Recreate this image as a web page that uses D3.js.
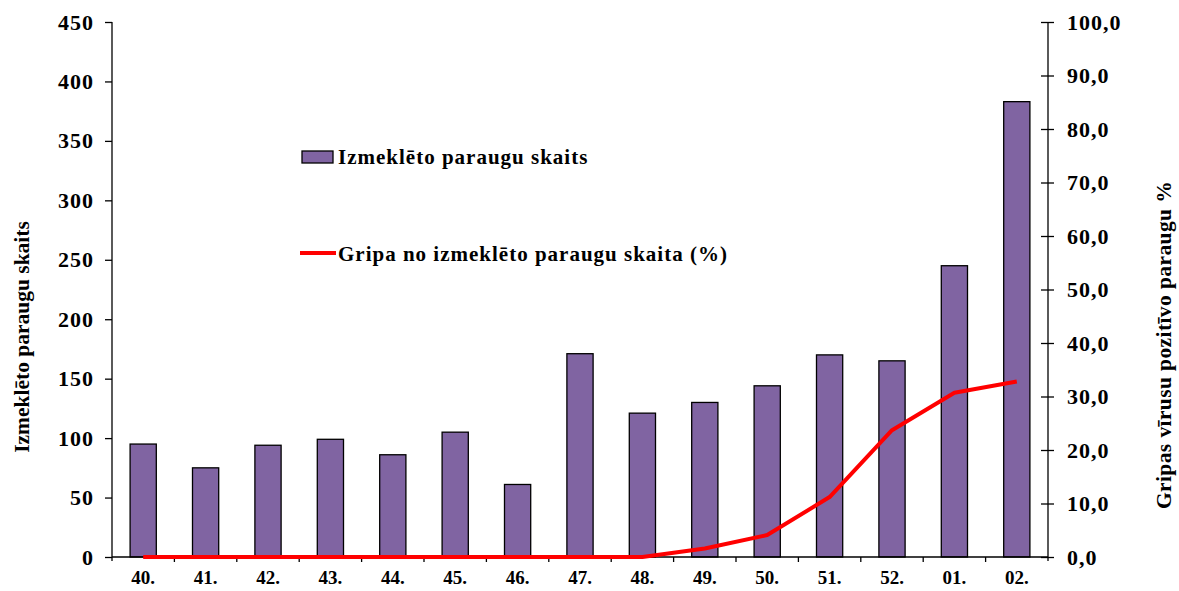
<!DOCTYPE html>
<html><head><meta charset="utf-8">
<script src="https://cdn.jsdelivr.net/npm/d3@7"></script>
<style>body{margin:0;background:#fff}svg{display:block}text{font-family:"Liberation Serif","Times New Roman",serif;font-weight:bold;fill:#000}</style>
</head><body><svg id="c" width="1179" height="591"></svg>
<script>
const weeks = ["40.","41.","42.","43.","44.","45.","46.","47.","48.","49.","50.","51.","52.","01.","02."];
const samples = [95,75,94,99,86,105,61,171,121,130,144,170,165,245,383];
const fluPct = [0,0,0,0,0,0,0,0,0,1.6,4.1,11.2,23.7,30.7,32.8];
const leftTicks = [0,50,100,150,200,250,300,350,400,450];
const rightTicks = [0,10,20,30,40,50,60,70,80,90,100];
const barLabel = "Izmeklēto paraugu skaits";
const lineLabel = "Gripa no izmeklēto paraugu skaita (%)";
const leftTitle = "Izmeklēto paraugu skaits";
const rightTitle = "Gripas vīrusu pozitīvo  paraugu %";

const svg = d3.select("#c");
const L = 112, R = 1048, T = 22, B = 557;
const x = d3.scaleBand().domain(weeks).range([L, R]).paddingInner(0.58).paddingOuter(0.29);
const yL = d3.scaleLinear().domain([0,450]).range([B,T]);
const yR = d3.scaleLinear().domain([0,100]).range([B,T]);

// bars
svg.append("g").selectAll("rect").data(weeks).join("rect")
  .attr("x", d => x(d)).attr("width", x.bandwidth())
  .attr("y", (d,i) => yL(samples[i])).attr("height", (d,i) => B - yL(samples[i]))
  .attr("fill", "#8064A2").attr("stroke", "#000").attr("stroke-width", 1.3);

// left axis
const ax = svg.append("g").attr("transform", `translate(${L},0)`)
  .call(d3.axisLeft(yL).tickValues(leftTicks).tickSize(7).tickPadding(11).tickFormat(d3.format("d")));
ax.selectAll("text").style("font-size","22px").style("letter-spacing","1px");
ax.select(".domain").attr("d", `M0,${T}V${B+4}`).attr("stroke","#000").attr("stroke-width",1.3);
ax.selectAll(".tick line").attr("stroke-width",1.3);

// right axis
const fmt = d => d3.format(".1f")(d).replace(".", ",");
const ar = svg.append("g").attr("transform", `translate(${R},0)`)
  .call(d3.axisRight(yR).tickValues(rightTicks).tickSize(6).tickPadding(13).tickFormat(fmt));
ar.selectAll("text").style("font-size","22px").style("letter-spacing","1px");
ar.select(".domain").attr("d", `M0,${T}V${B+4}`).attr("stroke","#000").attr("stroke-width",1.3);
ar.selectAll(".tick line").attr("x1",-7).attr("stroke-width",1.3);

// bottom axis
const ab = svg.append("g").attr("transform", `translate(0,${B})`)
  .call(d3.axisBottom(x).tickSize(0).tickPadding(14));
ab.selectAll("text").style("font-size","19px");
ab.select(".domain").attr("d", `M${L},0H${R}`).attr("stroke","#000").attr("stroke-width",1.3);
ab.selectAll(".tickb").data(d3.range(1, weeks.length)).join("line")
  .attr("x1", i => L + i * x.step()).attr("x2", i => L + i * x.step())
  .attr("y1", 0).attr("y2", 5).attr("stroke","#000").attr("stroke-width",1.3);

// line
const line = d3.line().x((d,i) => x(weeks[i]) + x.bandwidth()/2).y(d => yR(d));
svg.append("path").datum(fluPct).attr("d", line)
  .attr("fill","none").attr("stroke","#FF0000").attr("stroke-width",4).attr("stroke-linejoin","round");

// legend
svg.append("rect").attr("x",302).attr("y",151).attr("width",31).attr("height",12)
  .attr("fill","#8064A2").attr("stroke","#000").attr("stroke-width",1.3);
svg.append("text").attr("x",338).attr("y",164).style("font-size","21px").style("letter-spacing","1px").text(barLabel);
svg.append("line").attr("x1",300).attr("x2",336).attr("y1",253).attr("y2",253)
  .attr("stroke","#FF0000").attr("stroke-width",4);
svg.append("text").attr("x",338).attr("y",261).style("font-size","21px").style("letter-spacing","1px").text(lineLabel);

// titles
svg.append("text").attr("transform","translate(29,337) rotate(-90)").attr("text-anchor","middle")
  .style("font-size","21.5px").text(leftTitle);
svg.append("text").attr("transform","translate(1171,345) rotate(-90)").attr("text-anchor","middle")
  .style("font-size","21.5px").style("letter-spacing","0.4px").text(rightTitle);
</script></body></html>
